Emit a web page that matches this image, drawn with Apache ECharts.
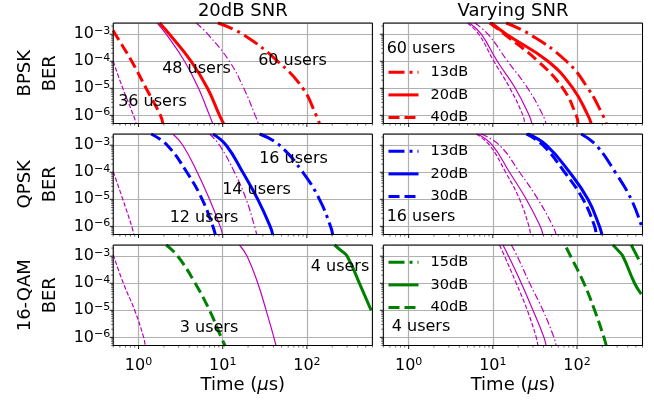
<!DOCTYPE html>
<html>
<head>
<meta charset="utf-8">
<script src="https://cdn.jsdelivr.net/npm/echarts@6/dist/echarts.min.js"></script>
<style>
html, body { margin: 0; padding: 0; background: #fff; }
#chart { width: 654px; height: 400px; }
</style>
</head>
<body>
<div id="chart"></div>
<script>
// axis ranges (log-log)
const X_MIN = 0.5, X_MAX = 600;
const Y_MIN = 5e-7, Y_MAX = 2.6e-3;

// BPSK, 20dB SNR  (bound = thin magenta, users = thick red)
const bpskBound36 = [[0.5, 1e-4], [0.65, 1e-5], [0.87, 1e-6], [0.94, 4.8e-7]];
const bpsk36 = [[0.5, 1.37e-3], [0.53, 1e-3], [0.83, 1e-4], [1.23, 1e-5], [1.82, 1e-6], [1.95, 4.8e-7]];
const bpskBound48 = [[1.67, 2.6e-3], [2.13, 1e-3], [3.52, 1e-4], [5.16, 1e-5], [6.97, 1e-6], [7.64, 4.8e-7]];
const bpsk48 = [[1.78, 2.6e-3], [2.33, 1e-3], [4.22, 1e-4], [6.6, 1e-5], [9.16, 1e-6], [10.3, 4.8e-7]];
const bpskBound60 = [[4.84, 2.6e-3], [6.66, 1e-3], [12.0, 1e-4], [17.8, 1e-5], [24.3, 1e-6], [26.6, 4.8e-7]];
const bpsk60 = [[8.75, 2.6e-3], [17.3, 1e-3], [45, 1e-4], [89.5, 1e-5], [129, 1e-6], [142, 4.8e-7]];

// BPSK, 60 users, varying SNR
const bpskBound40 = [[5.0, 2.6e-3], [6.8, 1e-3], [10.3, 1e-4], [16.0, 1e-5], [22.8, 1e-6], [23.9, 4.8e-7]];
const bpskBound20 = [[5.3, 2.6e-3], [7.3, 1e-3], [11.3, 1e-4], [18.5, 1e-5], [27.0, 1e-6], [29.2, 4.8e-7]];
const bpskBound13 = [[6.1, 2.6e-3], [8.75, 1e-3], [15.0, 1e-4], [26.0, 1e-5], [39.5, 1e-6], [43, 4.8e-7]];
const bpskSnr40 = [[9.2, 2.6e-3], [13.8, 1e-3], [34.4, 1e-4], [68, 1e-5], [98, 1e-6], [103, 4.8e-7]];
const bpskSnr20 = [[9.6, 2.6e-3], [14.5, 1e-3], [45.2, 1e-4], [89.5, 1e-5], [135, 1e-6], [148, 4.8e-7]];
const bpskSnr13 = [[14.4, 2.6e-3], [27.4, 1e-3], [75, 1e-4], [135, 1e-5], [203, 1e-6], [223, 4.8e-7]];

// QPSK, 20dB SNR
const qpskBound12 = [[0.5, 1.07e-4], [0.65, 1e-5], [0.83, 1e-6], [0.88, 4.8e-7]];
const qpsk12 = [[1.41, 2.6e-3], [2.19, 1e-3], [3.75, 1e-4], [5.7, 1e-5], [7.64, 1e-6], [8.2, 4.8e-7]];
const qpskBound14 = [[2.56, 2.6e-3], [3.36, 1e-3], [4.98, 1e-4], [6.97, 1e-5], [9.33, 1e-6], [10.0, 4.8e-7]];
const qpsk14 = [[7.64, 2.6e-3], [11.0, 1e-3], [17.3, 1e-4], [26.1, 1e-5], [36.6, 1e-6], [39.4, 4.8e-7]];
const qpskBound16 = [[6.97, 2.6e-3], [9.16, 1e-3], [13.8, 1e-4], [19.0, 1e-5], [23.9, 1e-6], [25.4, 4.8e-7]];
const qpsk16 = [[27.4, 2.6e-3], [47.3, 1e-3], [89.5, 1e-4], [141, 1e-5], [191, 1e-6], [203, 4.8e-7]];

// QPSK, 16 users, varying SNR
const qpskBound30 = [[6.36, 2.6e-3], [9.16, 1e-3], [14.2, 1e-4], [20.8, 1e-5], [26.9, 1e-6], [28.1, 4.8e-7]];
const qpskBound20 = [[6.6, 2.6e-3], [9.86, 1e-3], [15.8, 1e-4], [25.0, 1e-5], [36.6, 1e-6], [39.4, 4.8e-7]];
const qpskBound13 = [[7.3, 2.6e-3], [12.0, 1e-3], [20.8, 1e-4], [34.4, 1e-5], [51.8, 1e-6], [56.7, 4.8e-7]];
const qpskSnr30 = [[25, 2.6e-3], [39.4, 1e-3], [71.3, 1e-4], [118, 1e-5], [162, 1e-6], [169, 4.8e-7]];
const qpskSnr20 = [[26.1, 2.6e-3], [43.2, 1e-3], [81.7, 1e-4], [135, 1e-5], [185, 1e-6], [198, 4.8e-7]];
const qpskSnr13 = [[112, 2.6e-3], [169, 1e-3], [285, 1e-4], [441, 1e-5], [580, 1.1e-6]];

// 16-QAM, 20dB SNR
const qamBound3 = [[0.5, 1.15e-3], [0.66, 1e-4], [0.9, 1e-5], [1.15, 1e-6], [1.2, 4.8e-7]];
const qam3 = [[2.13, 2.6e-3], [2.93, 1e-3], [4.71, 1e-4], [6.97, 1e-5], [9.6, 1e-6], [10.7, 4.8e-7]];
const qamBound4 = [[15.8, 2.6e-3], [19.5, 1e-3], [26.1, 1e-4], [32.8, 1e-5], [40.5, 1e-6], [43.1, 4.8e-7]];
const qam4 = [[213, 2.6e-3], [255, 1.6e-3], [301, 1e-3], [421, 1e-4], [580, 1e-5]];

// 16-QAM, 4 users, varying SNR
const qamBound40 = [[12.0, 2.6e-3], [13.8, 1e-3], [19.0, 1e-4], [25.7, 1e-5], [32.8, 1e-6], [34.4, 4.8e-7]];
const qamBound30 = [[13.2, 2.6e-3], [15.4, 1e-3], [21.8, 1e-4], [30, 1e-5], [40.5, 1e-6], [43.1, 4.8e-7]];
const qamBound15 = [[16.6, 2.6e-3], [19.5, 1e-3], [27.4, 1e-4], [39.4, 1e-5], [53.2, 1e-6], [56.7, 4.8e-7]];
const qamSnr40 = [[74.6, 2.1e-3], [84, 1e-3], [121, 1e-4], [162, 1e-5], [209, 1e-6], [223, 4.8e-7]];
const qamSnr30 = [[267, 2.6e-3], [310, 1.6e-3], [351, 1e-3], [483, 1e-4], [580, 4e-5]];
const qamSnr15 = [[441, 2.6e-3], [580, 5e-4]];

const colTitles = ['20dB SNR', 'Varying SNR'];
const rowNames = ['BPSK', 'QPSK', '16-QAM'];
const legendNames = [['13dB', '20dB', '40dB'], ['13dB', '20dB', '30dB'], ['15dB', '30dB', '40dB']];
const legendTitles = ['60 users', '16 users', '4 users'];

const FONT = 'DejaVu Sans';
const MAG = '#bf00bf', RED = '#ff0000', BLUE = '#0000ff', GREEN = '#008000';
const DASH_THICK = { solid: 'solid', dashed: [11, 5], dashdot: [16, 5, 3, 5] };
const DASH_THIN = { solid: 'solid', dashed: [4.5, 2], dashdot: [7, 2.5, 1.5, 2.5] };

// layout
const COL_LEFT = [113.2, 383.3];
const COL_W = 259.2;
const ROW_TOP = [23, 134, 245];
const ROW_H = 100.5;

const isDecade = v => Math.abs(Math.log10(v) - Math.round(Math.log10(v))) < 1e-6;
const supText = v => {
    const e = Math.round(Math.log10(v));
    return '{b|10}{s|' + (e < 0 ? '\u2212' + (-e) : e) + '}';
};

// tick positions (1..9 per decade, inside the ranges)
const xTicks = [], yTicks = [];
for (let d = -1; d <= 2; d++) {
    for (let m = 1; m <= 9; m++) {
        const v = +(m * Math.pow(10, d)).toPrecision(6);
        if (v >= X_MIN && v <= X_MAX) xTicks.push(v);
    }
}
for (let d = -7; d <= -3; d++) {
    for (let m = 1; m <= 9; m++) {
        const v = +(m * Math.pow(10, d)).toPrecision(6);
        if (v >= Y_MIN && v <= Y_MAX) yTicks.push(v);
    }
}

let chart = echarts.init(document.getElementById('chart'));

const grids = [], xAxes = [], yAxes = [], series = [], graphics = [];

const tickRich = {
    b: { fontFamily: FONT, fontSize: 16, lineHeight: 18, color: '#000' },
    s: { fontFamily: FONT, fontSize: 11, lineHeight: 11, verticalAlign: 'top', color: '#000' }
};

for (let r = 0; r < 3; r++) {
    for (let c = 0; c < 2; c++) {
        const gi = r * 2 + c;
        grids.push({ left: COL_LEFT[c], top: ROW_TOP[r], width: COL_W, height: ROW_H });
        xAxes.push({
            type: 'log', logBase: 10, gridIndex: gi, min: X_MIN, max: X_MAX,
            axisLine: { show: false }, axisTick: { show: false },
            splitLine: { show: true, lineStyle: { color: '#b0b0b0', width: 1.2 } },
            axisLabel: {
                show: r === 2, margin: 11, color: '#000',
                showMinLabel: false, showMaxLabel: false,
                formatter: v => isDecade(v) ? supText(v) : '',
                rich: tickRich
            }
        });
        yAxes.push({
            type: 'log', logBase: 10, gridIndex: gi, min: Y_MIN, max: Y_MAX,
            axisLine: { show: false }, axisTick: { show: false },
            splitLine: { show: true, lineStyle: { color: '#b0b0b0', width: 1.2 } },
            axisLabel: {
                show: c === 0, margin: 3, color: '#000',
                showMinLabel: false, showMaxLabel: false,
                formatter: v => isDecade(v) ? supText(v) : '',
                rich: tickRich
            }
        });
        // ticks (outward, major + minor)
        series.push({
            type: 'custom', xAxisIndex: gi, yAxisIndex: gi, silent: true, clip: false, z: 5,
            data: xTicks.map(v => [v, Y_MIN]),
            renderItem: (params, api) => {
                const v = api.value(0);
                const p = api.coord([v, api.value(1)]);
                const len = isDecade(v) ? 3.5 : 2;
                return { type: 'line', shape: { x1: p[0], y1: p[1], x2: p[0], y2: p[1] + len }, style: { stroke: '#000', lineWidth: isDecade(v) ? 0.9 : 0.6 } };
            }
        });
        series.push({
            type: 'custom', xAxisIndex: gi, yAxisIndex: gi, silent: true, clip: false, z: 5,
            data: yTicks.map(v => [X_MIN, v]),
            renderItem: (params, api) => {
                const v = api.value(1);
                const p = api.coord([api.value(0), v]);
                const len = isDecade(v) ? 3.5 : 2;
                return { type: 'line', shape: { x1: p[0] - len, y1: p[1], x2: p[0], y2: p[1] }, style: { stroke: '#000', lineWidth: isDecade(v) ? 0.9 : 0.6 } };
            }
        });
        // frame
        graphics.push({
            type: 'rect', silent: true, z: 100,
            shape: { x: COL_LEFT[c], y: ROW_TOP[r], width: COL_W, height: ROW_H },
            style: { fill: 'transparent', stroke: '#000', lineWidth: 1 }
        });
    }
}

function line(data, gi, color, style, name) {
    const thick = color !== MAG;
    return {
        type: 'line', name: name, xAxisIndex: gi, yAxisIndex: gi, data: data,
        symbol: 'none', smooth: 0.45, clip: true, silent: true,
        lineStyle: { color: color, width: thick ? 3 : 1.2, type: (thick ? DASH_THICK : DASH_THIN)[style], cap: 'butt' },
        itemStyle: { color: color },
        z: thick ? 3 : 2
    };
}

series.push(
    line(bpskBound36, 0, MAG, 'dashed'), line(bpskBound48, 0, MAG, 'solid'), line(bpskBound60, 0, MAG, 'dashdot'),
    line(bpsk36, 0, RED, 'dashed'), line(bpsk48, 0, RED, 'solid'), line(bpsk60, 0, RED, 'dashdot'),

    line(bpskBound40, 1, MAG, 'dashed'), line(bpskBound20, 1, MAG, 'solid'), line(bpskBound13, 1, MAG, 'dashdot'),
    line(bpskSnr13, 1, RED, 'dashdot', 'BPSK 13dB'), line(bpskSnr20, 1, RED, 'solid', 'BPSK 20dB'), line(bpskSnr40, 1, RED, 'dashed', 'BPSK 40dB'),

    line(qpskBound12, 2, MAG, 'dashed'), line(qpskBound14, 2, MAG, 'solid'), line(qpskBound16, 2, MAG, 'dashdot'),
    line(qpsk12, 2, BLUE, 'dashed'), line(qpsk14, 2, BLUE, 'solid'), line(qpsk16, 2, BLUE, 'dashdot'),

    line(qpskBound30, 3, MAG, 'dashed'), line(qpskBound20, 3, MAG, 'solid'), line(qpskBound13, 3, MAG, 'dashdot'),
    line(qpskSnr13, 3, BLUE, 'dashdot', 'QPSK 13dB'), line(qpskSnr20, 3, BLUE, 'solid', 'QPSK 20dB'), line(qpskSnr30, 3, BLUE, 'dashed', 'QPSK 30dB'),

    line(qamBound3, 4, MAG, 'dashed'), line(qamBound4, 4, MAG, 'solid'),
    line(qam3, 4, GREEN, 'dashed'), line(qam4, 4, GREEN, 'solid'),

    line(qamBound40, 5, MAG, 'dashed'), line(qamBound30, 5, MAG, 'solid'), line(qamBound15, 5, MAG, 'dashdot'),
    line(qamSnr15, 5, GREEN, 'dashdot', 'QAM 15dB'), line(qamSnr30, 5, GREEN, 'solid', 'QAM 30dB'), line(qamSnr40, 5, GREEN, 'dashed', 'QAM 40dB')
);

const legendPrefix = ['BPSK', 'QPSK', 'QAM'];
const legendTop = [64.7, 143.7, 254.7];
const legends = legendNames.map((names, i) => ({
    data: names.map(n => legendPrefix[i] + ' ' + n),
    orient: 'vertical', left: 387, top: legendTop[i], padding: 0,
    itemWidth: 30, itemHeight: 14, itemGap: 7.7, selectedMode: false,
    lineStyle: { width: 3 },
    itemStyle: { opacity: 0 },
    formatter: name => name.split(' ')[1],
    textStyle: { fontFamily: FONT, fontSize: 14.5, color: '#000', lineHeight: 14, padding: [0, 0, 0, 7] }
}));

function text(str, x, y, size, extra) {
    return Object.assign({
        type: 'text', x: x, y: y, silent: true, z: 50,
        style: { text: str, fontFamily: FONT, fontSize: size, fill: '#000', align: 'center', verticalAlign: 'middle' }
    }, extra || {});
}

// column titles
graphics.push(text(colTitles[0], 242.8, 11.5, 18), text(colTitles[1], 513, 11.5, 18));
// row labels
rowNames.forEach((n, r) => {
    const cy = ROW_TOP[r] + ROW_H / 2;
    graphics.push(text(n, 25, cy, 18, { rotation: Math.PI / 2 }));
    graphics.push(text('BER', 50, cy, 18, { rotation: Math.PI / 2 }));
});
// x axis names
[242.8, 513].forEach(cx => {
    graphics.push({
        type: 'text', x: cx, y: 385, silent: true, z: 50,
        style: {
            text: '{a|Time (}{m|\u03bc}{a|s)}', align: 'center', verticalAlign: 'middle',
            rich: {
                a: { fontFamily: FONT, fontSize: 18, fill: '#000' },
                m: { fontFamily: FONT, fontSize: 18, fontStyle: 'italic', fill: '#000' }
            }
        }
    });
});
// curve annotations
graphics.push(
    text('36 users', 152.5, 102, 16), text('48 users', 196.5, 68.5, 16), text('60 users', 292.5, 61, 16),
    text('16 users', 293.5, 158.5, 16), text('14 users', 256.5, 190.3, 16), text('12 users', 204, 218, 16),
    text('3 users', 209, 328, 16), text('4 users', 340, 267, 16),
    text(legendTitles[0], 421, 49, 16), text(legendTitles[1], 421, 216.7, 16), text(legendTitles[2], 421, 327, 16)
);

let option = {
    backgroundColor: '#fff',
    animation: false,
    grid: grids,
    xAxis: xAxes,
    yAxis: yAxes,
    legend: legends,
    series: series,
    graphic: graphics
};

option && chart.setOption(option);
</script>
</body>
</html>
